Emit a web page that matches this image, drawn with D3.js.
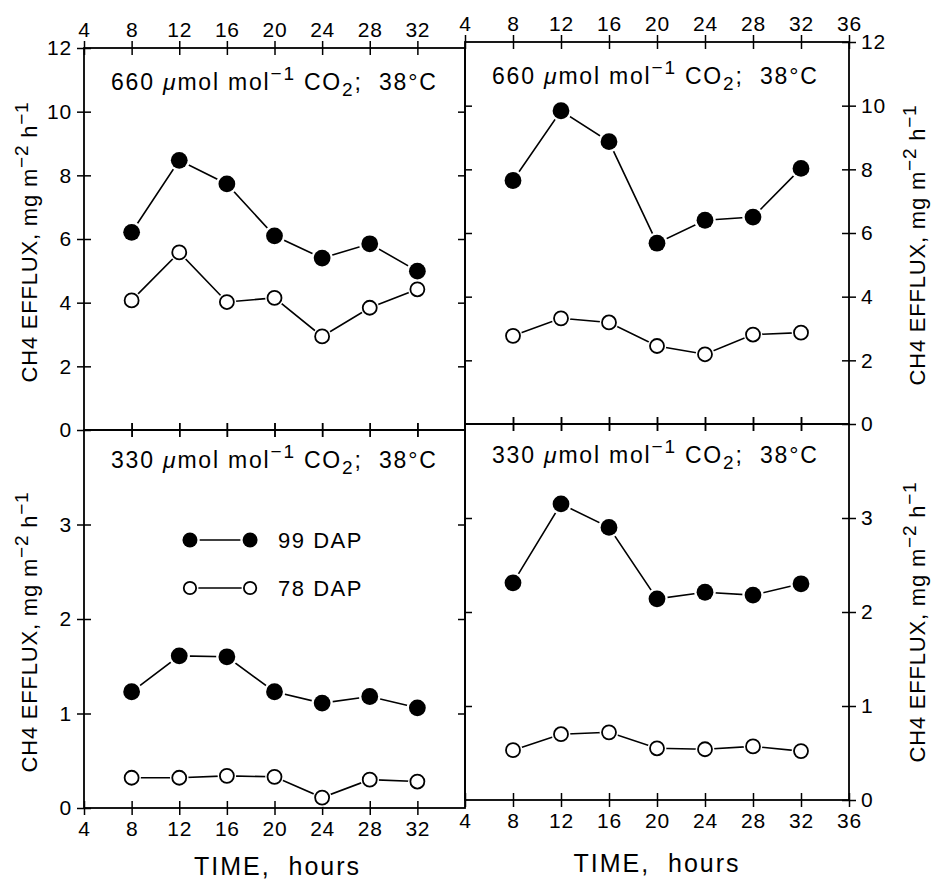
<!DOCTYPE html>
<html>
<head>
<meta charset="utf-8">
<script src="https://cdn.jsdelivr.net/npm/d3@7"></script>
<style>
  body { margin: 0; background: #fff; }
  text { font-family: "Liberation Sans", Arial, sans-serif; fill: #000; }
</style>
</head>
<body>
<div class="chart"></div>
<script>
// sampling times (hours)
const hours = [8, 12, 16, 20, 24, 28, 32];

// CH4 efflux, mg m-2 h-1
const tl99 = [6.21, 8.47, 7.73, 6.10, 5.40, 5.85, 4.99];
const tl78 = [4.07, 5.58, 4.02, 4.15, 2.94, 3.84, 4.42];
const tr99 = [7.65, 9.84, 8.87, 5.68, 6.40, 6.50, 8.03];
const tr78 = [2.77, 3.32, 3.19, 2.45, 2.19, 2.81, 2.87];
const bl99 = [1.23, 1.61, 1.60, 1.23, 1.11, 1.18, 1.06];
const bl78 = [0.32, 0.32, 0.34, 0.33, 0.11, 0.30, 0.28];
const br99 = [2.31, 3.15, 2.90, 2.14, 2.21, 2.18, 2.30];
const br78 = [0.53, 0.70, 0.72, 0.55, 0.54, 0.57, 0.52];

const xTicks = [4, 8, 12, 16, 20, 24, 28, 32, 36];
const yTicksHigh = [0, 2, 4, 6, 8, 10, 12];
const yTicksLow = [0, 1, 2, 3];
const legendLabels = ['99 DAP', '78 DAP'];

const W = 932, H = 879, TK = 7;
const FONT = '"Liberation Sans", Arial, sans-serif';

const svg = d3.select('.chart').append('svg')
  .attr('width', W).attr('height', H);

// panel boxes (the scan is slightly skewed, so right panels sit a bit higher)
const panels = [
  {x0: 84,  x1: 465, y0: 48,  y1: 430, ymax: 12, yt: yTicksHigh, s99: tl99, s78: tl78,
   co2: '660', side: 'left', top: true, tdy: 42, ldy: 3},
  {x0: 465, x1: 849, y0: 42,  y1: 424, ymax: 12, yt: yTicksHigh, s99: tr99, s78: tr78,
   co2: '660', side: 'right', top: true, tdy: 42, ldy: 12},
  {x0: 84,  x1: 465, y0: 430, y1: 808, ymax: 4,  yt: yTicksLow, s99: bl99, s78: bl78,
   co2: '330', side: 'left', top: false, tdy: 38, ldy: 13},
  {x0: 465, x1: 849, y0: 424, y1: 800, ymax: 4,  yt: yTicksLow, s99: br99, s78: br78,
   co2: '330', side: 'right', top: false, tdy: 39, ldy: 10}
];

const styleAxis = g => {
  g.select('.domain').remove();
  g.selectAll('text')
    .attr('font-family', FONT)
    .attr('font-size', 21).attr('letter-spacing', 0.8).attr('fill', '#000');
  g.selectAll('.tick line').attr('stroke', '#000').attr('stroke-width', 1.5);
};

const marker = (g, cx, cy, full, big) => {
  const r = big ? (full ? 8.4 : 7) : (full ? 7.5 : 6.2);
  g.append('circle').attr('cx', cx).attr('cy', cy).attr('r', r + 2.3).attr('fill', '#fff');
  g.append('circle').attr('cx', cx).attr('cy', cy).attr('r', r)
    .attr('fill', full ? '#000' : '#fff')
    .attr('stroke', '#000').attr('stroke-width', full ? 0 : 1.8);
};

panels.forEach(p => {
  const x = d3.scaleLinear().domain([4, 36]).range([p.x0, p.x1]);
  const y = d3.scaleLinear().domain([0, p.ymax]).range([p.y1, p.y0]);
  const g = svg.append('g');

  // frame
  g.append('rect')
    .attr('x', p.x0).attr('y', p.y0)
    .attr('width', p.x1 - p.x0).attr('height', p.y1 - p.y0)
    .attr('fill', 'none').attr('stroke', '#000').attr('stroke-width', 1.8);

  const inner = xTicks.filter(t => t > 4 && t < 36);
  const xLab = p.side === 'left' ? xTicks.filter(t => t < 36) : xTicks;

  // top x axis
  const gt = g.append('g').attr('transform', `translate(0,${p.y0})`)
    .call(d3.axisTop(x).tickValues(p.top ? xLab : inner).tickSize(TK).tickPadding(4)
      .tickFormat(p.top ? d3.format('d') : ''));
  styleAxis(gt);
  gt.selectAll('.tick line').attr('y1', TK);

  // bottom x axis
  const gb = g.append('g').attr('transform', `translate(0,${p.y1})`)
    .call(d3.axisBottom(x).tickValues(p.top ? inner : xLab).tickSize(TK).tickPadding(6)
      .tickFormat(p.top ? '' : d3.format('d')));
  styleAxis(gb);
  gb.selectAll('.tick line').attr('y1', -TK);

  // outer y axis (labels) and inner y axis (ticks only)
  const yIn = p.yt.filter(t => t > 0 && t < p.ymax);
  const yLab = p.top ? p.yt : p.yt.filter(t => t < p.ymax);
  if (p.side === 'left') {
    const gl = g.append('g').attr('transform', `translate(${p.x0},0)`)
      .call(d3.axisLeft(y).tickValues(yLab).tickSize(TK).tickPadding(5).tickFormat(d3.format('d')));
    styleAxis(gl);
    gl.selectAll('.tick line').attr('x1', TK);
    const gr = g.append('g').attr('transform', `translate(${p.x1},0)`)
      .call(d3.axisRight(y).tickValues(yIn).tickSize(-TK).tickFormat(''));
    styleAxis(gr);
  } else {
    const gr = g.append('g').attr('transform', `translate(${p.x1},0)`)
      .call(d3.axisRight(y).tickValues(yLab).tickSize(TK).tickPadding(5).tickFormat(d3.format('d')));
    styleAxis(gr);
    gr.selectAll('.tick line').attr('x1', -TK);
    const gl = g.append('g').attr('transform', `translate(${p.x0},0)`)
      .call(d3.axisLeft(y).tickValues(yIn).tickSize(-TK).tickFormat(''));
    styleAxis(gl);
  }

  // panel title
  const title = g.append('text').attr('x', p.x0 + 27).attr('y', p.y0 + p.tdy)
    .attr('font-size', 23).attr('letter-spacing', 1.8);
  title.append('tspan').text(p.co2 + ' ');
  title.append('tspan').attr('font-style', 'italic').text('\u03bc');
  title.append('tspan').text('mol mol');
  title.append('tspan').attr('dy', -10).attr('font-size', 19).text('\u22121');
  title.append('tspan').attr('dy', 10).text(' CO');
  title.append('tspan').attr('dy', 6).attr('font-size', 19).text('2');
  title.append('tspan').attr('dy', -6).text(';\u00a0\u00a038\u00b0C');

  // series
  const line = d3.line().x((d, i) => x(hours[i])).y(d => y(d));
  [p.s78, p.s99].forEach(s => {
    g.append('path').attr('d', line(s))
      .attr('fill', 'none').attr('stroke', '#000').attr('stroke-width', 1.6);
  });
  p.s99.forEach((v, i) => marker(g, x(hours[i]), y(v), true, true));
  p.s78.forEach((v, i) => marker(g, x(hours[i]), y(v), false, true));

  // y axis title
  const ax = p.side === 'left' ? 37 : 925;
  const ay = (p.y0 + p.y1) / 2 + p.ldy;
  const yt = g.append('text')
    .attr('transform', `translate(${ax},${ay}) rotate(-90)`)
    .attr('text-anchor', 'middle').attr('font-size', 22).attr('letter-spacing', 0.8);
  yt.append('tspan').text('CH4 EFFLUX, mg m');
  yt.append('tspan').attr('dy', -9).attr('font-size', 19).text('\u22122');
  yt.append('tspan').attr('dy', 9).text(' h');
  yt.append('tspan').attr('dy', -9).attr('font-size', 19).text('\u22121');

  // x axis title
  if (!p.top) {
    g.append('text').attr('x', (p.x0 + p.x1) / 2 + (p.side === 'left' ? 3 : 0))
      .attr('y', p.y1 + (p.side === 'left' ? 67 : 72))
      .attr('text-anchor', 'middle').attr('font-size', 25).attr('letter-spacing', 2)
      .text('TIME,\u00a0\u00a0hours');
  }

  // legend in lower-left panel
  if (p.side === 'left' && !p.top) {
    const lx0 = x(12.9), lx1 = x(17.95);
    legendLabels.forEach((lab, k) => {
      const ly = y(2.836 - 0.508 * k);
      g.append('line').attr('x1', lx0).attr('x2', lx1).attr('y1', ly).attr('y2', ly)
        .attr('stroke', '#000').attr('stroke-width', 1.6);
      [lx0, lx1].forEach(cx => marker(g, cx, ly, k === 0, false));
      g.append('text').attr('x', x(20.3)).attr('y', ly + 8)
        .attr('font-size', 22).attr('letter-spacing', 1.5).text(lab);
    });
  }
});
</script>
</body>
</html>
